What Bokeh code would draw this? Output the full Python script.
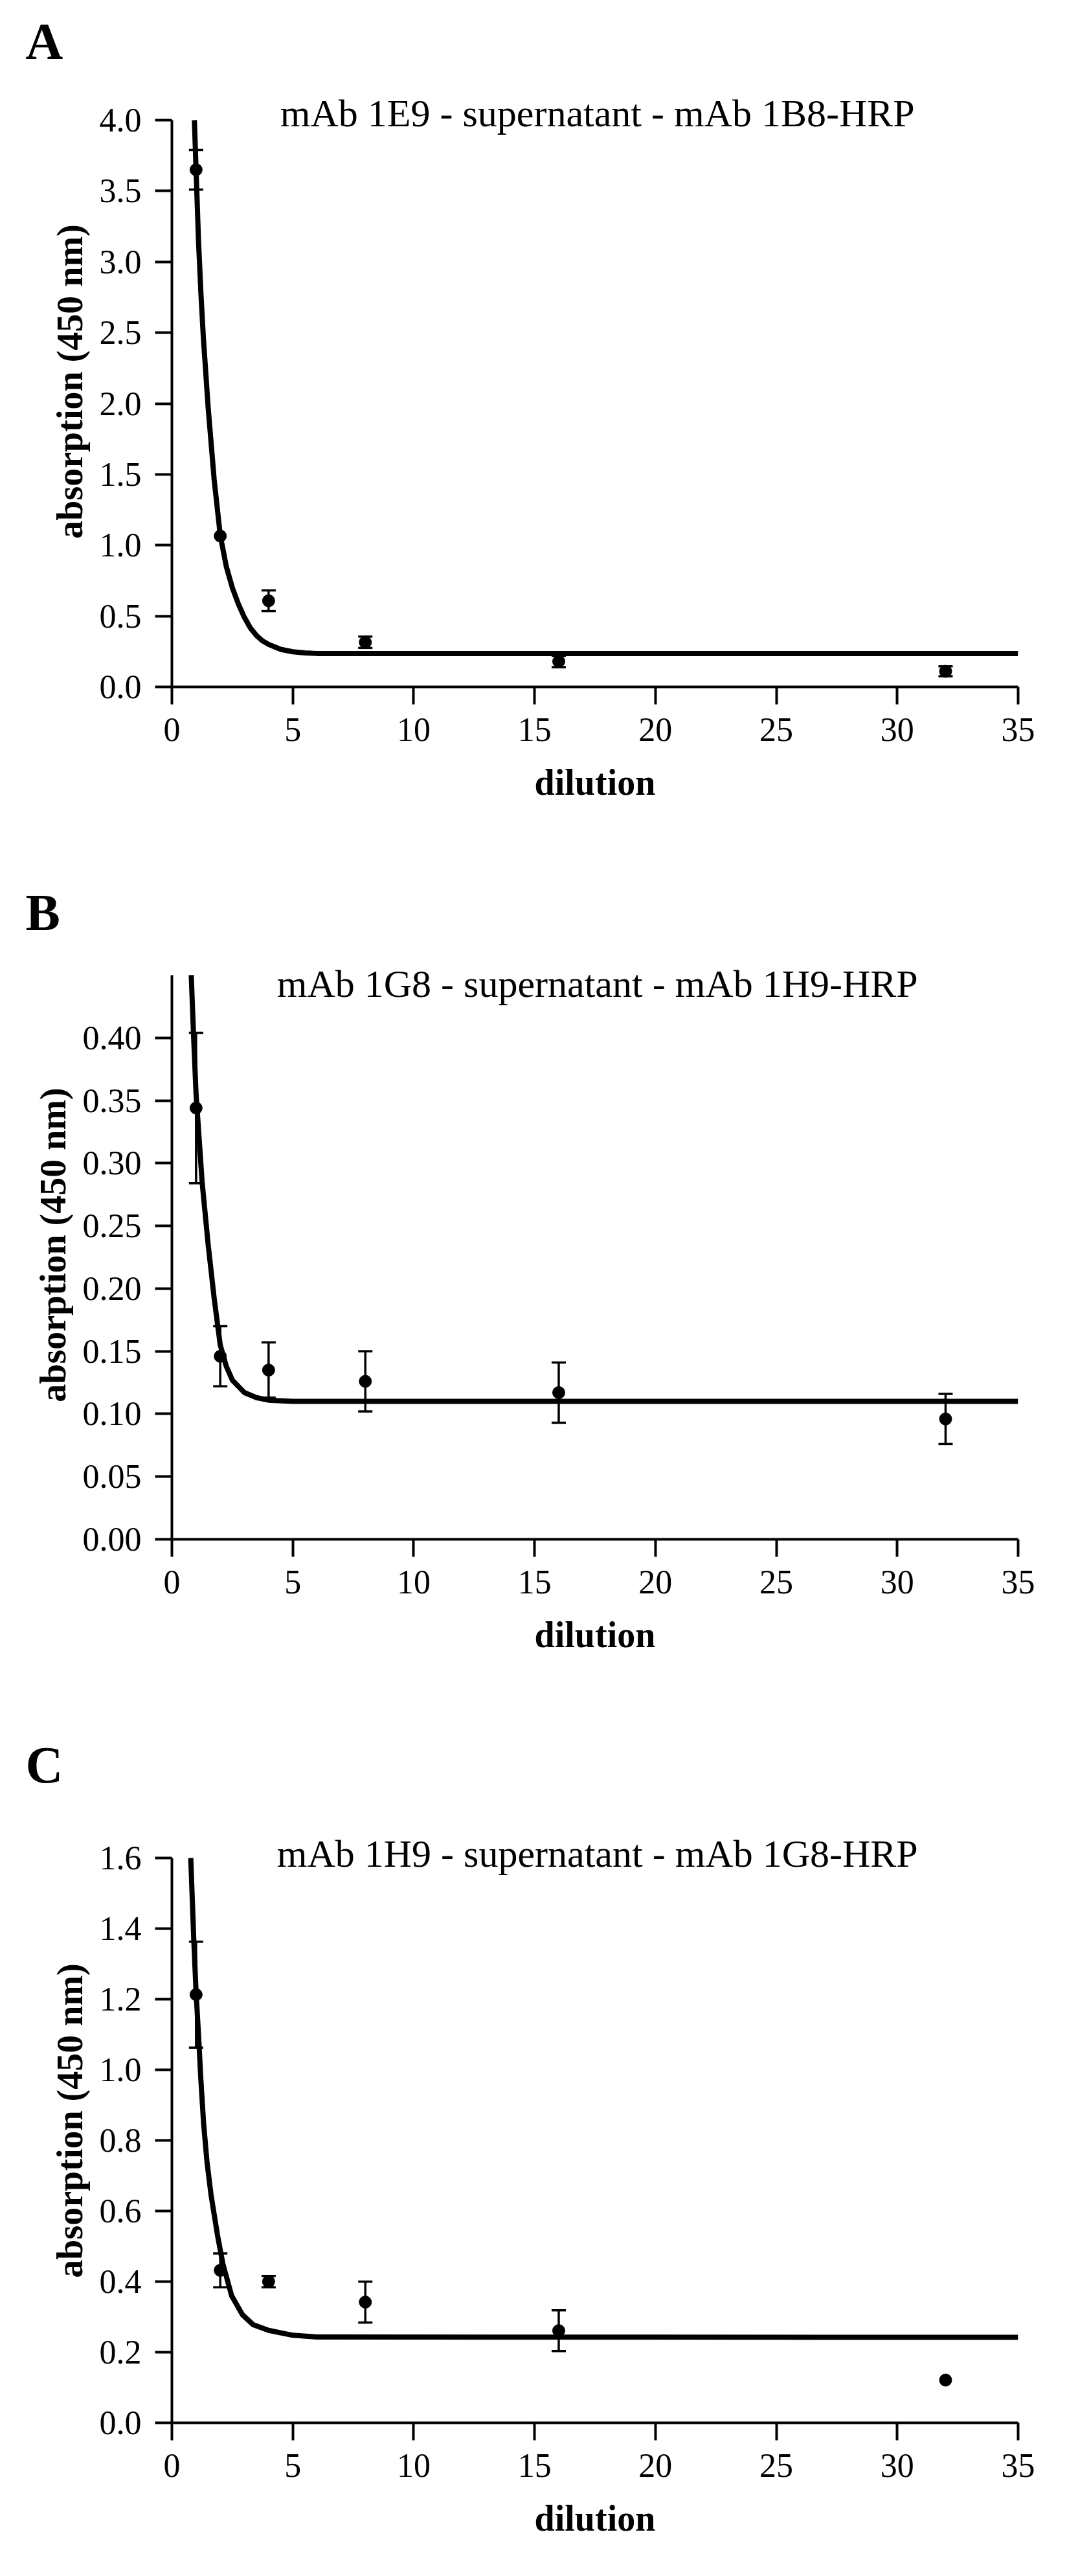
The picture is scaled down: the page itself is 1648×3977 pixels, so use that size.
from bokeh.plotting import figure
from bokeh.models import Range1d, FixedTicker, Whisker, TeeHead, ColumnDataSource, Title, Label
from bokeh.layouts import column
from bokeh.embed import file_html
from bokeh.resources import INLINE

# ---------------- data ----------------
dilution = [1, 2, 4, 8, 16, 32]
x_ticks = [0, 5, 10, 15, 20, 25, 30, 35]

# Panel A
a_title = "mAb 1E9 - supernatant - mAb 1B8-HRP"
a_mean = [3.65, 1.065, 0.608, 0.315, 0.18, 0.11]
a_err = [0.14, 0.0, 0.073, 0.04, 0.04, 0.035]
a_fit_x = [0.93, 1.0, 1.1, 1.2, 1.3, 1.5, 1.75, 2.0, 2.25, 2.5, 2.75, 3.0, 3.25,
           3.5, 3.75, 4.0, 4.5, 5.0, 5.5, 6.0, 35.0]
a_fit_y = [4.0, 3.65, 3.15, 2.78, 2.47, 1.97, 1.46, 1.07, 0.85, 0.70, 0.585, 0.49, 0.415,
           0.362, 0.325, 0.30, 0.265, 0.248, 0.24, 0.236, 0.235]
a_yticks = [0.0, 0.5, 1.0, 1.5, 2.0, 2.5, 3.0, 3.5, 4.0]
a_ylabels = ["0.0", "0.5", "1.0", "1.5", "2.0", "2.5", "3.0", "3.5", "4.0"]

# Panel B
b_title = "mAb 1G8 - supernatant - mAb 1H9-HRP"
b_mean = [0.344, 0.146, 0.135, 0.126, 0.117, 0.096]
b_err = [0.06, 0.024, 0.022, 0.024, 0.024, 0.02]
b_fit_x = [0.80, 0.9, 1.0, 1.25, 1.5, 1.75, 2.0, 2.25, 2.5, 3.0, 3.5, 4.0, 5.0, 35.0]
b_fit_y = [0.45, 0.40, 0.355, 0.285, 0.235, 0.192, 0.155, 0.138, 0.127, 0.117, 0.113, 0.111, 0.110, 0.110]
b_yticks = [0.0, 0.05, 0.10, 0.15, 0.20, 0.25, 0.30, 0.35, 0.40]
b_ylabels = ["0.00", "0.05", "0.10", "0.15", "0.20", "0.25", "0.30", "0.35", "0.40"]

# Panel C
c_title = "mAb 1H9 - supernatant - mAb 1G8-HRP"
c_mean = [1.213, 0.432, 0.40, 0.342, 0.261, 0.121]
c_err = [0.15, 0.048, 0.016, 0.058, 0.058, 0.0]
c_fit_x = [0.78, 0.91, 1.0, 1.1, 1.2, 1.31, 1.45, 1.62, 1.89, 2.11, 2.47, 2.92, 3.36,
           4.0, 5.0, 6.0, 35.0]
c_fit_y = [1.6, 1.36, 1.22, 1.10, 0.97, 0.85, 0.74, 0.645, 0.53, 0.45, 0.36, 0.306, 0.278,
           0.262, 0.248, 0.243, 0.242]
c_yticks = [0.0, 0.2, 0.4, 0.6, 0.8, 1.0, 1.2, 1.4, 1.6]
c_ylabels = ["0.0", "0.2", "0.4", "0.6", "0.8", "1.0", "1.2", "1.4", "1.6"]

FONT = "Liberation Serif"


def make_panel(letter, title, mean, err, fit_x, fit_y, y_axis_end, y_view_end,
               yticks, ylabels, border_top, frame_h, border_bottom,
               title_y, letter_standoff):
    p = figure(output_backend="svg", toolbar_location=None,
               frame_width=1307, frame_height=frame_h,
               min_border_left=265, min_border_right=60,
               min_border_top=border_top, min_border_bottom=border_bottom,
               x_range=Range1d(0, 35), y_range=Range1d(0, y_view_end),
               background_fill_color="white", border_fill_color="white")
    p.outline_line_color = None
    p.grid.visible = False

    for ax in (p.xaxis[0], p.yaxis[0]):
        ax.axis_line_width = 4
        ax.axis_line_color = "black"
        ax.major_tick_line_width = 4
        ax.major_tick_line_color = "black"
        ax.major_tick_in = 0
        ax.minor_tick_line_color = None
        ax.major_label_text_font = FONT
        ax.major_label_text_font_size = "52px"
        ax.major_label_text_color = "black"
        ax.major_label_standoff = 21
        ax.axis_label_text_font = FONT
        ax.axis_label_text_font_style = "bold"
        ax.axis_label_text_font_size = "56px"
        ax.axis_label_text_color = "black"

    p.xaxis.ticker = FixedTicker(ticks=x_ticks)
    p.xaxis.major_tick_out = 27
    p.xaxis.axis_label = "dilution"
    p.xaxis.axis_label_standoff = 30

    p.yaxis.ticker = FixedTicker(ticks=yticks)
    p.yaxis.major_label_overrides = {t: l for t, l in zip(yticks, ylabels)}
    p.yaxis.major_tick_out = 26
    p.yaxis.bounds = (0, y_axis_end)
    p.yaxis.axis_label = "absorption (450 nm)"
    p.yaxis.axis_label_standoff = 12

    # fitted curve
    p.line(fit_x, fit_y, line_width=8, line_color="black", line_join="round")

    # error bars (only where an error is visible)
    wx = [x for x, e in zip(dilution, err) if e > 0]
    wu = [m + e for m, e in zip(mean, err) if e > 0]
    wl = [m - e for m, e in zip(mean, err) if e > 0]
    wsrc = ColumnDataSource(dict(x=wx, upper=wu, lower=wl))
    w = Whisker(base="x", upper="upper", lower="lower", source=wsrc,
                line_width=3.5, line_color="black",
                upper_head=TeeHead(size=22, line_width=3.5, line_color="black"),
                lower_head=TeeHead(size=22, line_width=3.5, line_color="black"))
    p.add_layout(w)

    # data points
    p.scatter(dilution, mean, size=19, fill_color="black", line_color="black")

    # chart title inside the (extended) frame
    p.add_layout(Label(x=17.6, y=title_y, text=title, text_font=FONT,
                       text_font_size="60px", text_color="black",
                       text_align="center", text_baseline="alphabetic"))
    # panel letter in the space above the frame
    p.add_layout(Title(text=letter, align="left", offset=-226, standoff=letter_standoff,
                       text_font=FONT, text_font_style="bold",
                       text_font_size="80px", text_color="black"), "above")
    return p


pa = make_panel("A", a_title, a_mean, a_err, a_fit_x, a_fit_y, 4.0, 4.3109,
                a_yticks, a_ylabels, 117, 943, 232, 4.046, 20)
pb = make_panel("B", b_title, b_mean, b_err, b_fit_x, b_fit_y, 0.45, 0.4696,
                b_yticks, b_ylabels, 175, 909, 256, 0.4428, 30)
pc = make_panel("C", c_title, c_mean, c_err, c_fit_x, c_fit_y, 1.6, 1.7119,
                c_yticks, c_ylabels, 175, 933, 220, 1.611, 78)

layout = column(pa, pb, pc, spacing=0)
open("out.html", "w").write(file_html(layout, INLINE))
